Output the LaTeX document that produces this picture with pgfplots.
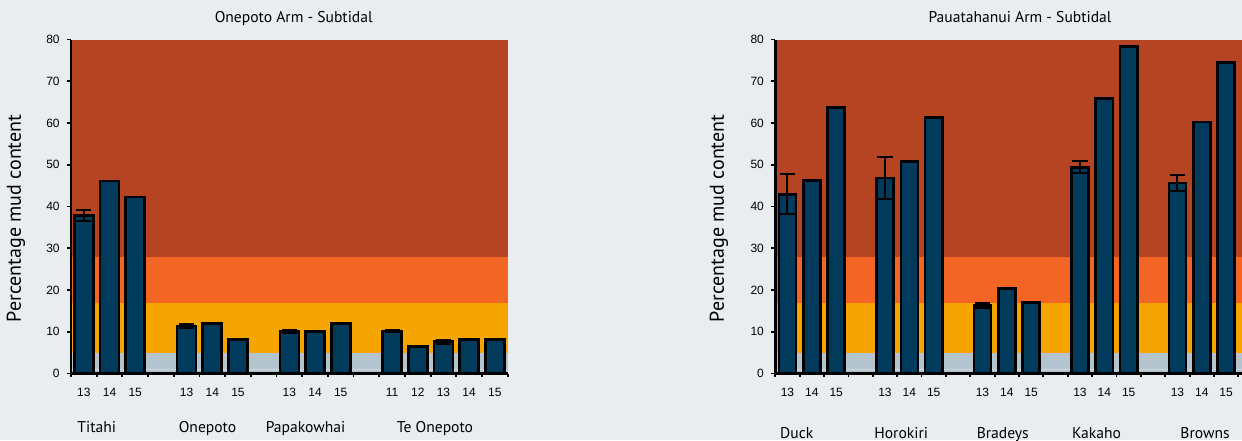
\documentclass[border=0pt]{standalone}
\usepackage{pgfplots}
\pgfplotsset{compat=1.18}
\usepackage{fontspec}
\setmainfont{PT Sans}
\newfontfamily\arial{Liberation Sans}
\definecolor{bgc}{HTML}{E9EDF0}
\definecolor{redb}{HTML}{B54423}
\definecolor{oran}{HTML}{F26524}
\definecolor{yelo}{HTML}{F6A500}
\definecolor{greyb}{HTML}{B4C4CE}
\definecolor{lline}{HTML}{CFD9DF}
\definecolor{barc}{HTML}{023A5B}
\pgfplotsset{
  mudaxis/.style={
    scale only axis, anchor=south west,
    height=167pt,
    ymin=0, ymax=80, ytick={0,10,...,80},
    axis on top,
    axis x line*=bottom, axis y line*=left,
    axis line style={black, line width=1.3pt, -},
    tick align=outside,
    major tick length=2pt, minor tick length=1.8pt,
    tick style={black, line width=0.9pt},
    major x tick style={draw=none},
    tick label style={font=\arial\fontsize{6pt}{7pt}\selectfont},
    /pgf/number format/assume math mode=true,
    xticklabel style={anchor=center, yshift=-7.6pt},
    yticklabel style={anchor=east, inner sep=0pt, xshift=-3.5pt},
    clip=false,
  },
  barsty/.style={ybar, fill=barc, draw=black, line width=1.3pt},
  errsty/.style={draw=none, mark=none,
    error bars/.cd, y dir=both, y explicit,
    error bar style={draw=black, line width=1pt, solid},
    error mark options={draw=black, line width=1pt, mark size=3.8pt, rotate=90}},
}
\begin{document}
\begin{tikzpicture}
\fill[bgc] (0,0) rectangle (621pt,220pt);
\path[use as bounding box] (0,0) rectangle (621pt,220pt);
% ---------------- left chart ----------------
\begin{axis}[mudaxis,
  at={(35.5pt,33.25pt)}, width=218.35pt,
  xmin=-0.5, xmax=16.5,
  xtick={0,1,2,4,5,6,8,9,10,12,13,14,15,16},
  xticklabels={13,14,15,13,14,15,13,14,15,11,12,13,14,15},
  minor xtick={-0.5,0.5,...,16.5},
]
\addplot[fill=redb, draw=none, forget plot] coordinates {(-0.5,80) (16.5,80)} \closedcycle;
\addplot[fill=oran, draw=none, forget plot] coordinates {(-0.5,28) (16.5,28)} \closedcycle;
\addplot[fill=yelo, draw=none, forget plot] coordinates {(-0.5,16.8) (16.5,16.8)} \closedcycle;
\addplot[fill=greyb, draw=none, forget plot] coordinates {(-0.5,4.8) (16.5,4.8)} \closedcycle;
\addplot[draw=lline, line width=0.6pt, forget plot] coordinates {(-0.5,1) (16.5,1)};
\addplot[barsty, bar width=0.74] coordinates {
 (0,37.8) (1,46.1) (2,42.3)
 (4,11.4) (5,12) (6,8.2)
 (8,10) (9,10.1) (10,12)
 (12,10.2) (13,6.5) (14,7.6) (15,8.1) (16,8.1)};
\addplot[errsty] coordinates {
 (0,37.8) +- (0,1.3)
 (4,11.4) +- (0,0.5)
 (8,10) +- (0,0.4)
 (12,10.2) +- (0,0.2)
 (14,7.6) +- (0,0.5)};
\end{axis}
% ---------------- right chart ----------------
\begin{axis}[mudaxis,
  at={(387.65pt,33.25pt)}, width=233.35pt,
  xmin=-0.5, xmax=18.65,
  xtick={0,1,2,4,5,6,8,9,10,12,13,14,16,17,18},
  xticklabels={13,14,15,13,14,15,13,14,15,13,14,15,13,14,15},
  minor xtick={-0.5,0.5,...,18.5},
]
\addplot[fill=redb, draw=none, forget plot] coordinates {(-0.5,80) (18.65,80)} \closedcycle;
\addplot[fill=oran, draw=none, forget plot] coordinates {(-0.5,28) (18.65,28)} \closedcycle;
\addplot[fill=yelo, draw=none, forget plot] coordinates {(-0.5,16.8) (18.65,16.8)} \closedcycle;
\addplot[fill=greyb, draw=none, forget plot] coordinates {(-0.5,4.8) (18.65,4.8)} \closedcycle;
\addplot[draw=lline, line width=0.6pt, forget plot] coordinates {(-0.5,1) (18.65,1)};
\addplot[barsty, bar width=0.70] coordinates {
 (0,42.9) (1,46.2) (2,63.7)
 (4,46.8) (5,50.8) (6,61.3)
 (8,16.3) (9,20.3) (10,17.0)
 (12,49.4) (13,65.9) (14,78.3)
 (16,45.6) (17,60.2) (18,74.5)};
\addplot[errsty] coordinates {
 (0,42.9) +- (0,4.8)
 (4,46.8) +- (0,5)
 (8,16.3) +- (0,0.5)
 (12,49.4) +- (0,1.4)
 (16,45.6) +- (0,1.9)};
\end{axis}
% ---------------- texts ----------------
\begin{scope}[every node/.style={inner sep=0pt, font=\fontsize{7.8pt}{9pt}\selectfont}]
\node at (146.85pt,210.5pt) {Onepoto Arm - Subtidal};
\node at (510pt,211.35pt) {Pauatahanui Arm - Subtidal};
\node[rotate=90, font=\fontsize{10pt}{12pt}\selectfont] at (8pt,110.75pt) {Percentage mud content};
\node[rotate=90, font=\fontsize{10pt}{12pt}\selectfont] at (359.5pt,110.75pt) {Percentage mud content};
\node[anchor=base] at (48.35pt,3.65pt) {Titahi};
\node[anchor=base] at (103.75pt,3.65pt) {Onepoto};
\node[anchor=base] at (152.75pt,3.65pt) {Papakowhai};
\node[anchor=base] at (217.5pt,3.65pt) {Te Onepoto};
\node[anchor=base] at (398.35pt,0.85pt) {Duck};
\node[anchor=base] at (450.6pt,0.85pt) {Horokiri};
\node[anchor=base] at (501.4pt,0.85pt) {Bradeys};
\node[anchor=base] at (548.25pt,0.85pt) {Kakaho};
\node[anchor=base] at (602.5pt,0.85pt) {Browns};
\end{scope}
\end{tikzpicture}
\end{document}
